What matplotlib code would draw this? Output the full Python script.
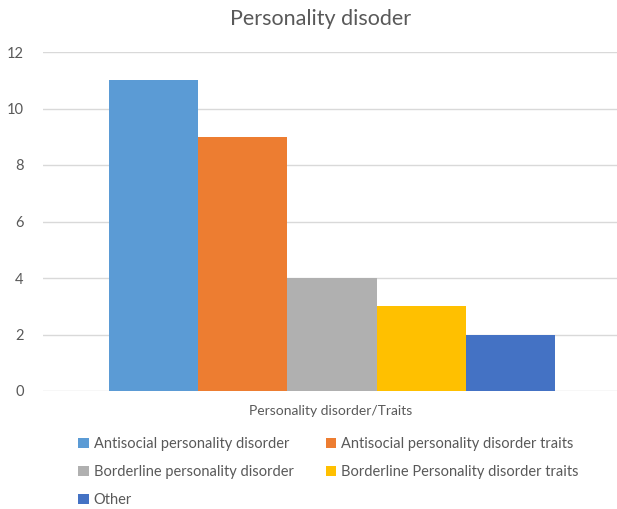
import numpy as np
import matplotlib
matplotlib.use("Agg")
import matplotlib.pyplot as plt

# Data
series = ["Antisocial personality disorder",
          "Antisocial personality disorder traits",
          "Borderline personality disorder",
          "Borderline Personality disorder traits",
          "Other"]
values = [11, 9, 4, 3, 2]
colors = ["#5B9BD5", "#ED7D31", "#B0B0B0", "#FFC000", "#4472C4"]
category = "Personality disorder/Traits"
yticks = [0, 2, 4, 6, 8, 10, 12]

plt.rcParams['font.family'] = ['Lato', 'DejaVu Sans']
text_col = "#595959"

W, H = 617, 509
fig = plt.figure(figsize=(W / 100, H / 100), dpi=100)
ax = fig.add_axes([43 / W, 1 - 391 / H, (617 - 43) / W, (391 - 52) / H])

n = len(values)
bw = 0.777 / n
x = (np.arange(n) - (n - 1) / 2) * bw
bars = []
for xi, v, c, s in zip(x, values, colors, series):
    b = ax.bar(xi, v, width=bw, color=c, label=s, zorder=3)
    bars.append(b)

ax.set_xlim(-0.5 - 2 / 574, 0.5 - 2 / 574)
ax.set_ylim(0, 12)
ax.set_yticks(yticks)
ax.set_xticks([])
ax.grid(axis='y', color="#D9D9D9", linewidth=1, zorder=0)
for sp in ax.spines.values():
    sp.set_visible(False)
ax.tick_params(axis='y', length=0, labelsize=10.5, labelcolor=text_col, pad=14)

fig.text(321 / W, 1 - 19 / H, "Personality disoder", ha='center', va='center',
         fontsize=15.5, color=text_col)
fig.text(331 / W, 1 - 411 / H, category, ha='center', va='center',
         fontsize=10, color=text_col)

order = [0, 2, 4, 1, 3]
leg = fig.legend([bars[i] for i in order], [series[i] for i in order],
                 ncol=2, loc='upper left', bbox_to_anchor=(71 / W, 1 - 430 / H),
                 frameon=False, fontsize=10.5, labelcolor=text_col,
                 handlelength=0.7, handleheight=0.7, handletextpad=0.35,
                 columnspacing=2.2, labelspacing=0.95, borderpad=0)

fig.savefig("out.png", dpi=100)
